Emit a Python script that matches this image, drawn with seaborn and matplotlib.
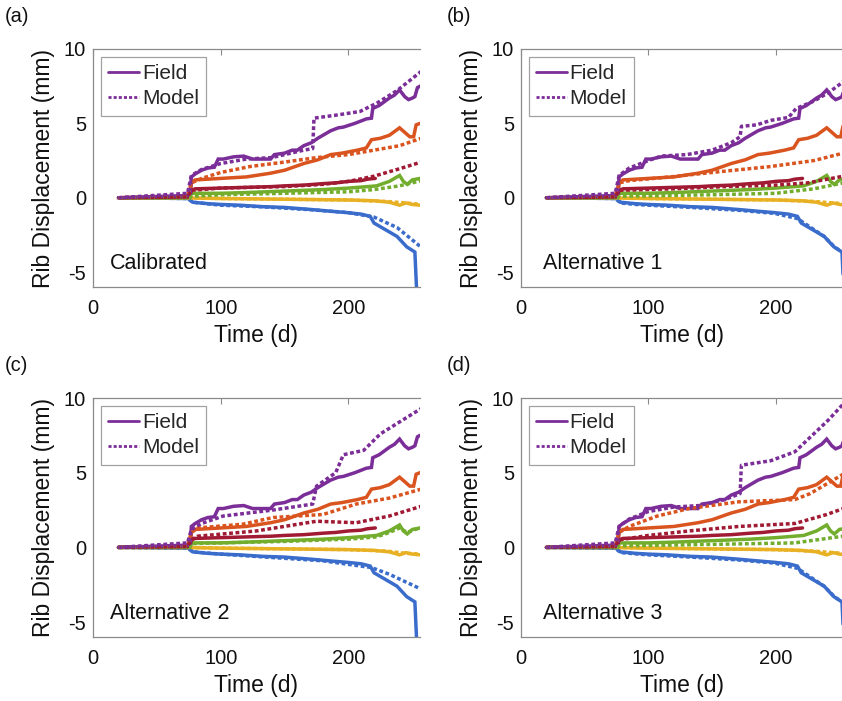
import numpy as np
import pandas as pd
import matplotlib
matplotlib.use("Agg")
import matplotlib.pyplot as plt
from matplotlib.lines import Line2D
import seaborn as sns

# ---------------- data ----------------
PANEL_LABELS = ["(a)", "(b)", "(c)", "(d)"]
PANEL_NAMES = ["Calibrated", "Alternative 1", "Alternative 2", "Alternative 3"]
X_TICKS = [0, 100, 200]
Y_TICKS = [-5, 0, 5, 10]

# Field measurements (same in every panel)
FP_t = [20, 74, 76, 77, 80, 85, 90, 95, 98, 102, 110, 118, 125, 130, 139, 142, 150, 156, 160, 165, 171, 176, 180, 186, 192, 196, 205, 214, 218, 219, 224, 232, 236, 240, 244, 247, 250, 252, 254, 256]
FP_y = [0, 0.15, 0.2, 1.4, 1.6, 1.85, 2.0, 2.05, 2.6, 2.6, 2.75, 2.8, 2.6, 2.6, 2.6, 2.9, 3.0, 3.2, 3.2, 3.5, 3.7, 4.0, 4.2, 4.5, 4.7, 4.75, 5.0, 5.3, 5.35, 6.0, 6.2, 6.7, 6.9, 7.25, 6.8, 6.6, 6.7, 6.8, 7.4, 7.5]
FO_t = [20, 74, 76, 77, 80, 100, 120, 139, 150, 155, 165, 176, 186, 195, 207, 214, 218, 225, 232, 240, 244, 248, 251, 253, 256]
FO_y = [0, 0.05, 0.1, 1.0, 1.2, 1.3, 1.4, 1.65, 1.85, 2.0, 2.3, 2.55, 2.9, 3.0, 3.2, 3.35, 3.9, 4.0, 4.2, 4.7, 4.4, 4.1, 4.1, 4.9, 5.0]
FD_t = [20, 74, 76, 77, 80, 100, 120, 140, 150, 165, 180, 190, 200, 210, 215, 221]
FD_y = [0, 0.05, 0.1, 0.5, 0.6, 0.65, 0.7, 0.75, 0.8, 0.85, 0.95, 1.0, 1.1, 1.15, 1.25, 1.3]
FG_t = [20, 74, 76, 77, 100, 120, 150, 180, 200, 215, 222, 232, 240, 243, 246, 250, 256]
FG_y = [0, 0.0, 0.05, 0.3, 0.3, 0.35, 0.45, 0.55, 0.65, 0.75, 0.8, 1.1, 1.5, 1.1, 0.9, 1.2, 1.3]
FY_t = [20, 76, 100, 150, 200, 220, 232, 240, 245, 250, 256]
FY_y = [0, -0.02, -0.05, -0.1, -0.15, -0.2, -0.3, -0.5, -0.35, -0.45, -0.5]
FB_t = [20, 74, 76, 78, 90, 100, 115, 133, 150, 172, 185, 199, 210, 217, 220, 230, 238, 245.6, 252, 253.5]
FB_y = [0, -0.05, -0.1, -0.3, -0.4, -0.45, -0.5, -0.6, -0.65, -0.8, -0.9, -1.0, -1.1, -1.25, -1.7, -2.2, -2.6, -3.3, -3.65, -6.5]

# Model results, panel (a) Calibrated
MP_A_t = [20, 74, 77, 85, 100, 120, 140, 155, 165, 172, 173, 190, 209, 222, 238, 257]
MP_A_y = [0, 0.3, 1.5, 1.9, 2.3, 2.6, 2.7, 3.0, 3.2, 3.3, 5.35, 5.55, 5.8, 6.35, 7.2, 8.5]
MO_A_t = [20, 74, 77, 85, 100, 123, 150, 175, 200, 220, 240, 257]
MO_A_y = [0, 0.15, 1.0, 1.3, 1.7, 2.1, 2.4, 2.7, 2.9, 3.2, 3.5, 4.0]
MD_A_t = [20, 74, 77, 100, 150, 180, 200, 220, 240, 257]
MD_A_y = [0, 0.05, 0.5, 0.65, 0.75, 0.9, 1.1, 1.45, 1.95, 2.4]
MG_A_t = [20, 76, 77, 100, 150, 200, 220, 240, 257]
MG_A_y = [0, 0, 0.1, 0.2, 0.3, 0.4, 0.55, 0.8, 1.15]
MY_A_t = [20, 76, 100, 150, 200, 230, 245, 257]
MY_A_y = [0, 0, -0.05, -0.1, -0.15, -0.25, -0.35, -0.45]
MB_A_t = [20, 74, 78, 100, 130, 170, 200, 220, 238, 258]
MB_A_y = [0, -0.05, -0.3, -0.5, -0.6, -0.8, -1.0, -1.3, -2.0, -3.4]

# panel (b) Alternative 1
MP_B_t = [20, 74, 77, 85, 100, 110, 130, 150, 165, 172, 173, 185, 196, 210, 216, 230, 242, 253]
MP_B_y = [0, 0.3, 1.5, 2.0, 2.5, 2.8, 2.9, 3.2, 3.7, 4.1, 4.8, 4.9, 5.2, 5.4, 6.0, 6.5, 7.1, 7.8]
MO_B_t = [20, 74, 77, 85, 117, 150, 196, 230, 253]
MO_B_y = [0, 0.1, 1.0, 1.15, 1.4, 1.7, 2.1, 2.5, 3.0]
MD_B_t = [20, 74, 77, 120, 160, 200, 225, 253]
MD_B_y = [0, 0.05, 0.5, 0.6, 0.75, 0.85, 1.0, 1.45]
MG_B_t = [20, 76, 77, 150, 200, 230, 253]
MG_B_y = [0, 0, 0.1, 0.2, 0.3, 0.6, 1.0]
MY_B_t = [20, 76, 100, 150, 200, 230, 245, 253]
MY_B_y = [0, 0, -0.05, -0.1, -0.15, -0.25, -0.35, -0.4]
MB_B_t = [20, 74, 78, 90, 100, 133, 172, 199, 217, 238, 246, 253]
MB_B_y = [0, -0.05, -0.35, -0.45, -0.5, -0.65, -0.85, -1.05, -1.4, -2.6, -3.3, -3.7]

# panel (c) Alternative 2
MP_C_t = [20, 74, 77, 85, 102, 141, 172, 175, 190, 196, 212, 225, 257]
MP_C_y = [0, 0.3, 1.2, 1.6, 2.1, 2.5, 2.9, 4.1, 5.0, 6.2, 6.5, 7.6, 9.3]
MO_C_t = [20, 74, 77, 82, 117, 141, 180, 206, 232, 257]
MO_C_y = [0, 0.1, 1.0, 1.3, 1.55, 2.0, 2.2, 2.9, 3.3, 3.9]
MD_C_t = [20, 74, 77, 82, 128, 175, 206, 232, 257]
MD_C_y = [0, 0.05, 0.5, 0.75, 1.1, 1.75, 1.65, 2.1, 2.75]
MG_C_t = [20, 76, 77, 100, 150, 200, 222, 232, 240, 246, 257]
MG_C_y = [0, 0, 0.25, 0.3, 0.4, 0.55, 0.7, 1.0, 1.3, 1.0, 1.35]
MY_C_t = [20, 76, 100, 150, 200, 230, 245, 257]
MY_C_y = [0, 0, -0.05, -0.1, -0.15, -0.25, -0.4, -0.45]
MB_C_t = [20, 74, 78, 100, 144, 180, 218, 232, 257]
MB_C_y = [0, -0.05, -0.3, -0.45, -0.7, -0.9, -1.35, -1.8, -2.8]

# panel (d) Alternative 3
MP_D_t = [20, 74, 77, 85, 100, 120, 140, 160, 172, 173, 196, 215, 241, 253]
MP_D_y = [0, 0.3, 1.4, 1.9, 2.4, 2.7, 2.8, 3.2, 3.6, 5.5, 5.8, 6.4, 8.5, 9.6]
MO_D_t = [20, 74, 77, 85, 107, 132, 171, 215, 227, 253]
MO_D_y = [0, 0.1, 1.0, 1.4, 2.1, 2.6, 3.05, 3.2, 3.6, 4.9]
MD_D_t = [20, 74, 77, 100, 132, 171, 215, 240, 253]
MD_D_y = [0, 0.05, 0.5, 0.8, 1.1, 1.4, 1.6, 2.2, 2.6]
MG_D_t = [20, 76, 77, 150, 215, 253]
MG_D_y = [0, 0, 0.1, 0.2, 0.3, 0.75]
MY_D_t = [20, 76, 100, 150, 200, 230, 245, 253]
MY_D_y = [0, 0, -0.05, -0.1, -0.15, -0.25, -0.35, -0.4]
MB_D_t = [20, 74, 78, 100, 133, 172, 199, 217, 238, 246, 253]
MB_D_y = [0, -0.05, -0.35, -0.5, -0.65, -0.85, -1.05, -1.4, -2.6, -3.3, -3.7]

COLORS = {"P": "#7B2D98", "O": "#D9541E", "D": "#A01A33",
          "G": "#72AD2E", "Y": "#E8B124", "B": "#3A6CCB"}

FIELD = {"B": (FB_t, FB_y), "O": (FO_t, FO_y), "Y": (FY_t, FY_y),
         "G": (FG_t, FG_y), "D": (FD_t, FD_y), "P": (FP_t, FP_y)}
MODELS = [
    {"B": (MB_A_t, MB_A_y), "O": (MO_A_t, MO_A_y), "Y": (MY_A_t, MY_A_y),
     "G": (MG_A_t, MG_A_y), "D": (MD_A_t, MD_A_y), "P": (MP_A_t, MP_A_y)},
    {"B": (MB_B_t, MB_B_y), "O": (MO_B_t, MO_B_y), "Y": (MY_B_t, MY_B_y),
     "G": (MG_B_t, MG_B_y), "D": (MD_B_t, MD_B_y), "P": (MP_B_t, MP_B_y)},
    {"B": (MB_C_t, MB_C_y), "O": (MO_C_t, MO_C_y), "Y": (MY_C_t, MY_C_y),
     "G": (MG_C_t, MG_C_y), "D": (MD_C_t, MD_C_y), "P": (MP_C_t, MP_C_y)},
    {"B": (MB_D_t, MB_D_y), "O": (MO_D_t, MO_D_y), "Y": (MY_D_t, MY_D_y),
     "G": (MG_D_t, MG_D_y), "D": (MD_D_t, MD_D_y), "P": (MP_D_t, MP_D_y)},
]

# ---------------- style ----------------
sns.set_style("white")
plt.rcParams["font.family"] = ["Liberation Sans", "DejaVu Sans"]
plt.rcParams["axes.unicode_minus"] = False

W, H = 842, 701
fig = plt.figure(figsize=(W / 100, H / 100), dpi=100)

# axes boxes in pixels: left, top, right, bottom
BOXES = [(93, 49, 420, 287), (521, 49, 842, 287),
         (93, 398, 420, 637), (521, 398, 842, 637)]
XMAX = [256, 252, 256, 252]
LABEL_POS = [(5, 17), (447, 17), (5, 366), (447, 366)]

DOT = (0, (1.1, 0.75))
SPINE = "#8a8a8a"

for i in range(4):
    l, t, r, b = BOXES[i]
    ax = fig.add_axes([l / W, 1 - b / H, (r - l) / W, (b - t) / H])
    for key, (xs, ys) in FIELD.items():
        sns.lineplot(x=xs, y=ys, ax=ax, color=COLORS[key], lw=2.5,
                     sort=False, estimator=None, solid_joinstyle="miter")
    for key, (xs, ys) in MODELS[i].items():
        sns.lineplot(x=xs, y=ys, ax=ax, color=COLORS[key], lw=2.5,
                     linestyle=DOT, sort=False, estimator=None)
    ax.set_xlim(0, XMAX[i])
    ax.set_ylim(-6, 10)
    ax.set_xticks(X_TICKS)
    ax.set_yticks(Y_TICKS)
    ax.tick_params(direction="in", top=True, right=False, length=4,
                   width=0.8, color=SPINE, labelsize=14.5, pad=9,
                   labelcolor="#111111")
    ax.tick_params(axis="y", pad=5)
    ax.spines["right"].set_visible(False)
    for s in ["left", "top", "bottom"]:
        ax.spines[s].set_color(SPINE)
        ax.spines[s].set_linewidth(0.9)
    ax.set_xlabel("Time (d)", fontsize=16.5, labelpad=4, color="#111111")
    ax.set_ylabel("Rib Displacement (mm)", fontsize=16.5, labelpad=6, color="#111111")
    ax.text(0.052 if i % 2 == 0 else 0.069, 0.10, PANEL_NAMES[i],
            transform=ax.transAxes, fontsize=15.5, va="center", ha="left",
            color="#111111")
    handles = [Line2D([], [], color=COLORS["P"], lw=2.0),
               Line2D([], [], color=COLORS["P"], lw=2.0, linestyle=DOT)]
    leg = ax.legend(handles, ["Field", "Model"], loc="upper left",
                    bbox_to_anchor=(0.024, 0.967), fontsize=15, frameon=True,
                    fancybox=False, handlelength=1.5, handletextpad=0.12,
                    borderpad=0.35, labelspacing=0.3, borderaxespad=0.0)
    leg.get_frame().set_edgecolor(SPINE)
    leg.get_frame().set_linewidth(0.9)
    lx, ly = LABEL_POS[i]
    fig.text(lx / W, 1 - ly / H, PANEL_LABELS[i], fontsize=14.5,
             va="center", ha="left", color="#111111")

fig.savefig("out.png", dpi=100)
